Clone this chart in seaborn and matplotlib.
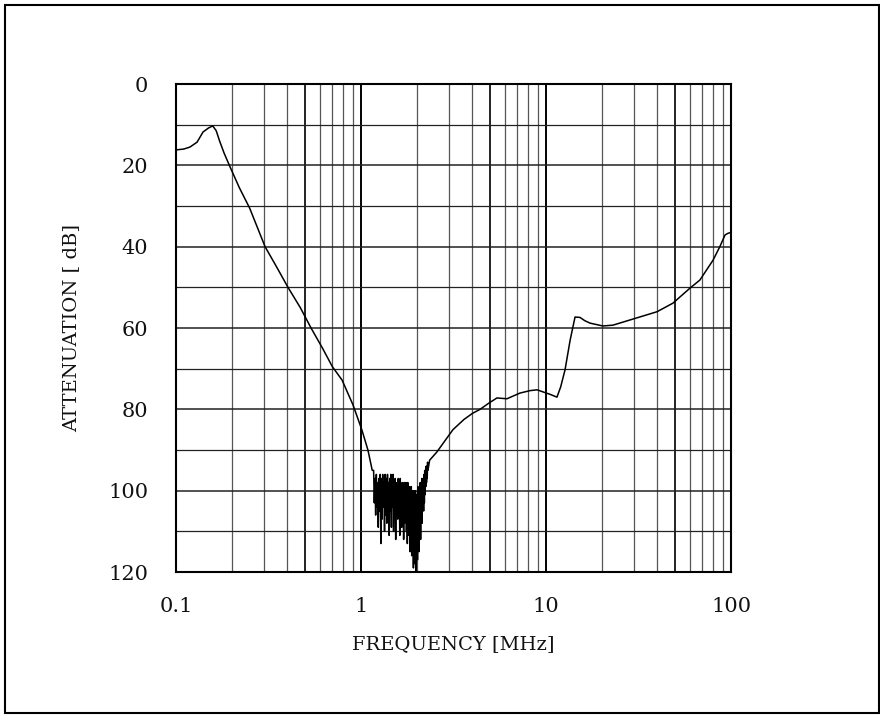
import numpy as np
import pandas as pd
import matplotlib
matplotlib.use("Agg")
import matplotlib.pyplot as plt
import seaborn as sns
from matplotlib.ticker import FixedLocator, NullFormatter

# ---- data ----
freq_low = [0.100, 0.110, 0.119, 0.130, 0.140, 0.150, 0.158, 0.165, 0.172, 0.182,
            0.196, 0.220, 0.250, 0.303, 0.350, 0.403, 0.470, 0.537, 0.620,
            0.700, 0.790, 0.905, 1.010, 1.090, 1.150]
atten_low = [16.2, 16.0, 15.5, 14.3, 11.8, 10.8, 10.3, 11.5, 14.0, 17.0,
             20.4, 25.5, 30.5, 40.0, 45.0, 50.0, 55.0, 60.0, 65.0,
             69.5, 72.8, 78.9, 85.0, 90.0, 95.0]

freq_noise = [1.17, 1.18, 1.19, 1.20, 1.21, 1.22, 1.23, 1.24, 1.25, 1.26,
              1.27, 1.28, 1.29, 1.30, 1.31, 1.32, 1.33, 1.34, 1.35, 1.36,
              1.37, 1.38, 1.39, 1.40, 1.41, 1.42, 1.43, 1.44, 1.45, 1.46,
              1.47, 1.48, 1.49, 1.50, 1.51, 1.52, 1.53, 1.54, 1.55, 1.56,
              1.57, 1.58, 1.59, 1.60, 1.61, 1.62, 1.63, 1.64, 1.65, 1.66,
              1.67, 1.68, 1.69, 1.70, 1.71, 1.72, 1.73, 1.74, 1.75, 1.76,
              1.77, 1.78, 1.79, 1.80, 1.81, 1.82, 1.83, 1.84, 1.85, 1.86,
              1.87, 1.88, 1.89, 1.90, 1.91, 1.92, 1.93, 1.94, 1.95, 1.96,
              1.97, 1.98, 1.99, 2.00, 2.01, 2.02, 2.03, 2.04, 2.05, 2.06,
              2.07, 2.08, 2.09, 2.10, 2.11, 2.12, 2.13, 2.14, 2.15, 2.16,
              2.17, 2.18, 2.19, 2.20, 2.21, 2.22, 2.23, 2.24, 2.25, 2.26,
              2.27, 2.28, 2.29, 2.30]
atten_noise = [95, 103, 97, 106, 96, 104, 98, 109, 97, 105,
               96, 113, 97, 107, 96, 104, 98, 110, 96, 106,
               97, 108, 96, 103, 98, 111, 97, 105, 96, 109,
               97, 104, 96, 110, 98, 106, 97, 112, 98, 105,
               99, 107, 97, 103, 98, 111, 97, 106, 99, 109,
               98, 105, 99, 112, 98, 108, 100, 106, 98, 110,
               100, 113, 98, 107, 100, 111, 99, 115, 101, 109,
               99, 116, 100, 112, 101, 119, 100, 114, 102, 118,
               100, 120, 102, 113, 101, 117, 99, 111, 101, 115,
               100, 109, 98, 112, 99, 106, 97, 108, 98, 104,
               97, 105, 96, 103, 95, 101, 96, 99, 94, 98,
               94, 97, 93, 95]

freq_high = [2.35, 2.57, 2.92, 3.14, 3.60, 4.00, 4.40, 4.90, 5.43, 6.15,
             7.23, 8.20, 8.94, 9.63, 10.50, 11.46, 12.00, 12.67, 13.50,
             14.35, 15.27, 16.20, 17.30, 20.30, 23.00, 29.50, 39.80, 48.50,
             60.00, 67.90, 80.00, 87.00, 92.90, 96.40, 100.0]
atten_high = [92.5, 90.5, 87.0, 85.0, 82.5, 81.0, 80.0, 78.5, 77.2, 77.4,
              76.0, 75.4, 75.2, 75.7, 76.3, 77.0, 74.5, 70.3, 63.0,
              57.3, 57.4, 58.2, 58.8, 59.5, 59.3, 57.8, 56.0, 53.9,
              50.2, 48.2, 43.3, 40.0, 37.1, 36.7, 36.5]

x_ticks = [0.1, 1, 10, 100]
x_tick_labels = ["0.1", "1", "10", "100"]
y_ticks = [0, 20, 40, 60, 80, 100, 120]

df = pd.DataFrame({
    "freq": freq_low + freq_noise + freq_high,
    "atten": atten_low + atten_noise + atten_high,
})

sns.set_theme(style="white")
plt.rcParams["font.family"] = ["DejaVu Serif", "DejaVu Sans"]

fig = plt.figure(figsize=(8.8, 7.15), dpi=100)
ax = fig.add_axes([0.2, 0.2, 0.6307, 0.6825])

# grid
minor_x = [m * d for d in (0.1, 1, 10) for m in range(2, 10)]
for xv in minor_x:
    heavy = abs(xv / (10 ** np.floor(np.log10(xv) + 1e-9)) - 5) < 1e-6
    ax.axvline(xv, color="#111111" if heavy else "#555555",
               lw=1.3 if heavy else 0.9, zorder=1)
for xv in [1, 10]:
    ax.axvline(xv, color="#000000", lw=1.4, zorder=1)
for yv in range(10, 120, 10):
    ax.axhline(yv, color="#222222", lw=1.1 if yv % 20 == 0 else 0.9, zorder=1)

sns.lineplot(data=df, x="freq", y="atten", sort=False, estimator=None,
             color="black", lw=1.1, ax=ax, zorder=3)

ax.set_xscale("log")
ax.set_xlim(0.1, 100)
ax.set_ylim(120, 0)
ax.xaxis.set_major_locator(FixedLocator(x_ticks))
ax.set_xticklabels(x_tick_labels)
ax.xaxis.set_minor_locator(FixedLocator([]))
ax.xaxis.set_minor_formatter(NullFormatter())
ax.set_yticks(y_ticks)
ax.tick_params(axis="both", length=0, labelsize=15, colors="#111111")
ax.tick_params(axis="y", pad=20)
ax.tick_params(axis="x", pad=18)

ax.set_xlabel("FREQUENCY [MHz]", fontsize=14, labelpad=14, color="#111111")
ax.set_ylabel("ATTENUATION [ dB]", fontsize=14, labelpad=20, color="#111111")

for s in ax.spines.values():
    s.set_visible(True)
    s.set_color("black")
    s.set_linewidth(1.5)

# outer frame
frame = plt.Rectangle((5 / 880, 2 / 715), 874 / 880, 708 / 715,
                      transform=fig.transFigure, fill=False,
                      edgecolor="black", lw=1.5)
fig.patches.append(frame)

fig.savefig("out.png", dpi=100)
